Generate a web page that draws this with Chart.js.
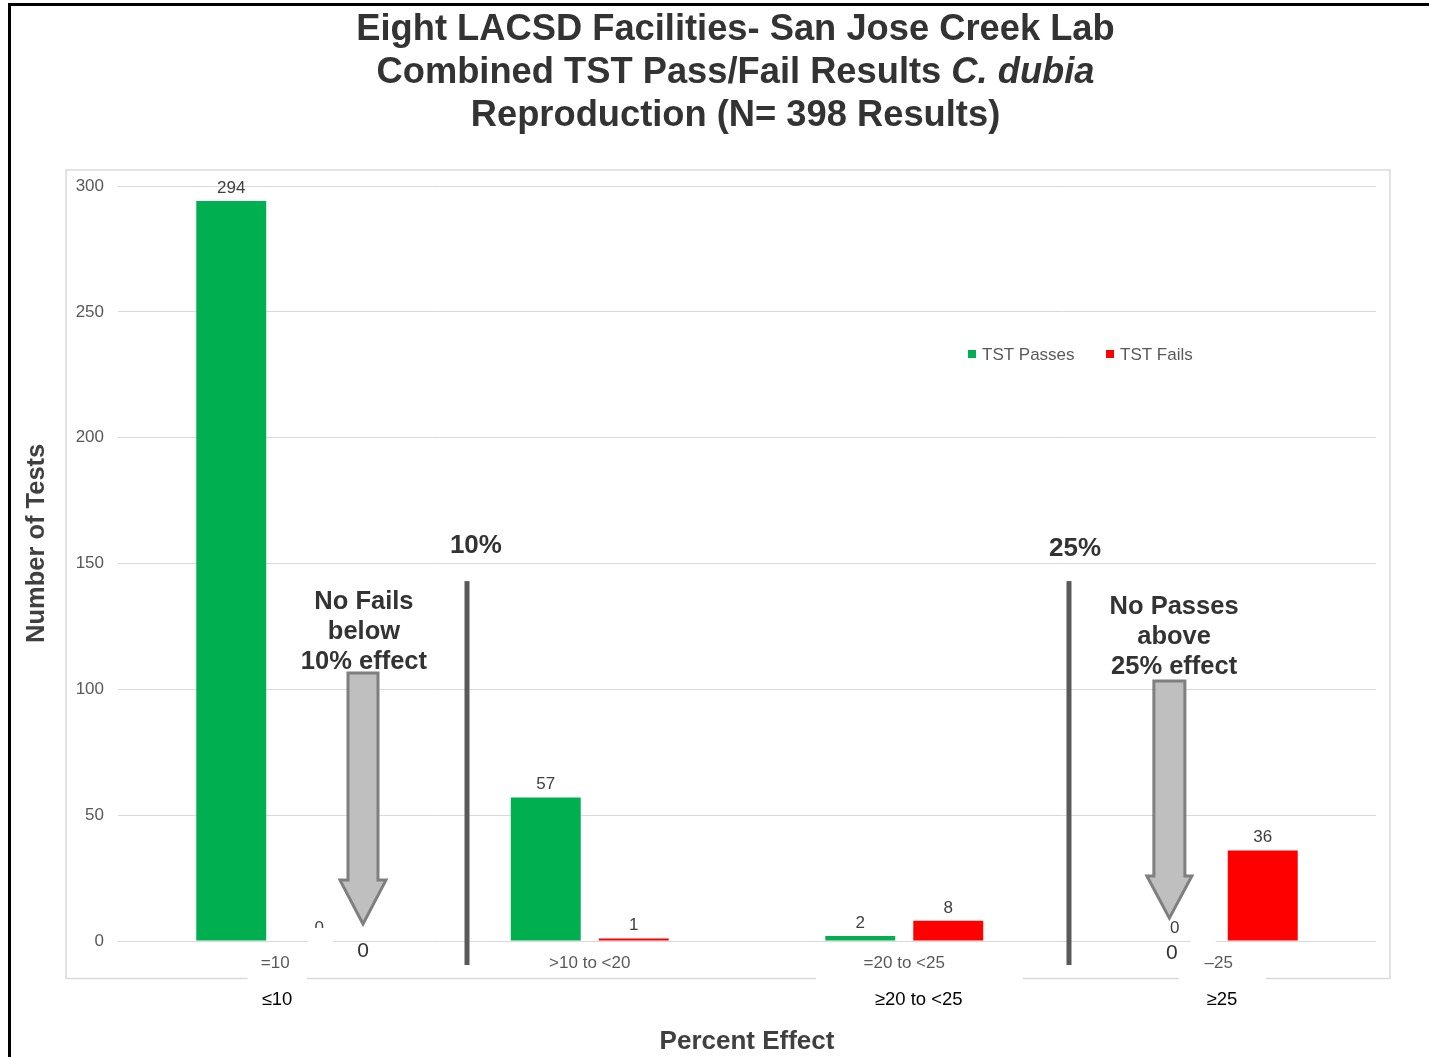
<!DOCTYPE html>
<html>
<head>
<meta charset="utf-8">
<script src="https://cdn.jsdelivr.net/npm/chart.js@4.4.1/dist/chart.umd.min.js"></script>
<style>
  html, body { margin: 0; padding: 0; background: #fff; overflow: hidden; }
  #c { display: block; }
</style>
</head>
<body>
<canvas id="c" width="1429" height="1057"></canvas>
<script>
// Percent-effect bins as printed on the axis, and the larger labels set beneath them
const categories = ['=10', '>10 to <20', '=20 to <25', '\u201325'];
const binLabels = ['\u226410', '', '\u226520 to <25', '\u226525'];

// Test counts per bin
const passes = [294, 57, 2, 0];
const fails = [0, 1, 8, 36];

// Value axis
const yMin = 0;
const yMax = 300;
const yStep = 50;

// Title lines (second line ends with the species name in italics)
const titleLine1 = 'Eight LACSD Facilities- San Jose Creek Lab';
const titleLine2 = 'Combined TST Pass/Fail Results ';
const titleSpecies = 'C. dubia';
const titleLine3 = 'Reproduction (N= 398 Results)';

const FONT = '"Liberation Sans", Arial, Helvetica, sans-serif';
const TY = 1.5; // small downward nudge for canvas text set on a middle baseline

// Helpers: category index / value -> pixels
function px(chart, i) { return chart.scales.x.getPixelForValue(i); }
function py(chart, v) { return chart.scales.y.getPixelForValue(v); }

function drawArrow(ctx, x, yTop, yHead, yTip, shaftHalf, headHalf) {
  ctx.beginPath();
  ctx.moveTo(x - shaftHalf, yTop);
  ctx.lineTo(x + shaftHalf, yTop);
  ctx.lineTo(x + shaftHalf, yHead);
  ctx.lineTo(x + headHalf, yHead);
  ctx.lineTo(x, yTip);
  ctx.lineTo(x - headHalf, yHead);
  ctx.lineTo(x - shaftHalf, yHead);
  ctx.closePath();
  ctx.fillStyle = '#bfbfbf';
  ctx.fill();
  ctx.lineWidth = 3;
  ctx.lineJoin = 'miter';
  ctx.strokeStyle = '#7f7f7f';
  ctx.stroke();
}

const sheetDecor = {
  id: 'sheetDecor',
  beforeDraw(chart) {
    const { ctx, chartArea: a } = chart;
    ctx.save();
    // page frame
    ctx.fillStyle = '#000';
    ctx.fillRect(8, 3, 3, chart.height);
    ctx.fillRect(8, 3, chart.width, 3);

    // plot frame
    ctx.strokeStyle = '#d9d9d9';
    ctx.lineWidth = 1.5;
    ctx.strokeRect(a.left - 52, a.top - 16, (a.right - a.left) + 66, (a.bottom - a.top) + 37.5 + 16);

    // title
    const cx = 735.5;
    ctx.fillStyle = '#333333';
    ctx.textBaseline = 'middle';
    ctx.textAlign = 'center';
    ctx.font = 'bold 36.3px ' + FONT;
    ctx.fillText(titleLine1, cx, 29.5);
    ctx.fillText(titleLine3, cx, 115.5);
    const wA = ctx.measureText(titleLine2).width;
    ctx.font = 'italic bold 36.3px ' + FONT;
    const wB = ctx.measureText(titleSpecies).width;
    const start = cx - (wA + wB) / 2;
    ctx.textAlign = 'left';
    ctx.font = 'bold 36.3px ' + FONT;
    ctx.fillText(titleLine2, start, 72.5);
    ctx.font = 'italic bold 36.3px ' + FONT;
    ctx.fillText(titleSpecies, start + wA, 72.5);

    // value-axis title
    ctx.save();
    ctx.translate(37, py(chart, 158));
    ctx.rotate(-Math.PI / 2);
    ctx.textAlign = 'center';
    ctx.font = 'bold 25.5px ' + FONT;
    ctx.fillStyle = '#404040';
    ctx.fillText('Number of Tests', 0, 0);
    ctx.restore();

    ctx.restore();
  },
  afterDatasetsDraw(chart) {
    const { ctx, chartArea: a } = chart;
    ctx.save();

    // value labels above bars
    ctx.font = '17px ' + FONT;
    ctx.fillStyle = '#404040';
    ctx.textAlign = 'center';
    ctx.textBaseline = 'middle';
    chart.data.datasets.forEach((ds, di) => {
      chart.getDatasetMeta(di).data.forEach((bar, i) => {
        ctx.fillText(String(ds.data[i]), bar.x, bar.y - 14.5 + TY);
      });
    });

    // white label boxes laid over the axis area
    ctx.fillStyle = '#ffffff';
    const boxes = [
      [0.105, 0.185, 5.2, -2.0],
      [-0.0875, 0.101, -12.3, -17.9],
      [1.719, 2.377, -12.3, -17.9],
      [2.873, 3.15, -12.3, -17.9],
      [2.911, 2.99, 2.4, -2.0]
    ];
    boxes.forEach(([i0, i1, v0, v1]) => {
      const x0 = px(chart, i0), x1 = px(chart, i1);
      const y0 = py(chart, v0), y1 = py(chart, v1);
      ctx.fillRect(x0, y0, x1 - x0, y1 - y0);
    });

    // second row of bin labels
    ctx.font = '18.5px ' + FONT;
    ctx.fillStyle = '#000000';
    const rowPos = [0.0056, null, 2.046, 3.01];
    binLabels.forEach((t, i) => {
      if (!t) return;
      ctx.fillText(t, px(chart, rowPos[i]), py(chart, -22.4) + 2.5);
    });

    // threshold lines
    ctx.fillStyle = '#595959';
    [0.6097, 2.5238].forEach((i) => {
      const x = px(chart, i);
      const y0 = py(chart, 143), y1 = py(chart, -9.54);
      ctx.fillRect(x - 2.5, y0, 5, y1 - y0);
    });

    // threshold captions
    ctx.fillStyle = '#333333';
    ctx.font = 'bold 26px ' + FONT;
    ctx.fillText('10%', px(chart, 0.638), py(chart, 157.7) + TY);
    ctx.fillText('25%', px(chart, 2.543), py(chart, 156.6) + TY);

    // notes
    ctx.font = 'bold 25.5px ' + FONT;
    const noteA = ['No Fails', 'below', '10% effect'];
    const noteB = ['No Passes', 'above', '25% effect'];
    noteA.forEach((t, k) => ctx.fillText(t, px(chart, 0.282), py(chart, 135.5 - k * 11.92) + TY));
    noteB.forEach((t, k) => ctx.fillText(t, px(chart, 2.858), py(chart, 133.5 - k * 11.92) + TY));

    // arrows pointing at the empty bins
    drawArrow(ctx, px(chart, 0.279), py(chart, 106.5), py(chart, 24.2), py(chart, 6.75), 15, 23);
    drawArrow(ctx, px(chart, 2.843), py(chart, 103.3), py(chart, 25.8), py(chart, 9.1), 15.5, 22.5);

    // zero callouts
    ctx.fillStyle = '#333333';
    ctx.font = '21px ' + FONT;
    ctx.fillText('0', px(chart, 0.279), py(chart, -3.6) + TY);
    ctx.fillText('0', px(chart, 2.851), py(chart, -4.4) + TY);

    // legend
    ctx.font = '17px ' + FONT;
    ctx.textAlign = 'left';
    const ly = a.top + 168;
    let lx = a.left + 850;
    chart.data.datasets.forEach((ds) => {
      ctx.fillStyle = ds.backgroundColor;
      ctx.fillRect(lx, ly - 4, 8, 8);
      ctx.fillStyle = '#595959';
      ctx.fillText(ds.label, lx + 14, ly + 1);
      lx += 138;
    });

    ctx.restore();
  }
};

new Chart(document.getElementById('c'), {
  type: 'bar',
  data: {
    labels: categories,
    datasets: [
      { label: 'TST Passes', data: passes, backgroundColor: '#00B050' },
      { label: 'TST Fails', data: fails, backgroundColor: '#FF0000' }
    ]
  },
  options: {
    responsive: false,
    animation: false,
    devicePixelRatio: 1,
    categoryPercentage: 0.5596,
    barPercentage: 0.795,
    layout: { padding: { top: 186, right: 53, bottom: 0, left: 19 } },
    plugins: {
      legend: { display: false },
      tooltip: { enabled: false },
      title: { display: false }
    },
    scales: {
      x: {
        grid: { display: false, drawTicks: false },
        border: { display: false },
        ticks: {
          color: '#595959',
          font: { family: FONT, size: 17 },
          padding: 12,
          maxRotation: 0,
          autoSkip: false
        },
        title: {
          display: true,
          text: 'Percent Effect',
          color: '#404040',
          font: { family: FONT, size: 26, weight: 'bold' },
          padding: { top: 4, bottom: 0 }
        },
        afterFit(scale) { scale.height = 116; }
      },
      y: {
        min: yMin,
        max: yMax,
        grid: { color: '#d9d9d9', lineWidth: 1, drawTicks: false },
        border: { display: false },
        ticks: {
          stepSize: yStep,
          color: '#595959',
          font: { family: FONT, size: 17 },
          padding: 14
        },
        afterFit(scale) { scale.width = 99; }
      }
    }
  },
  plugins: [sheetDecor]
});
</script>
</body>
</html>
